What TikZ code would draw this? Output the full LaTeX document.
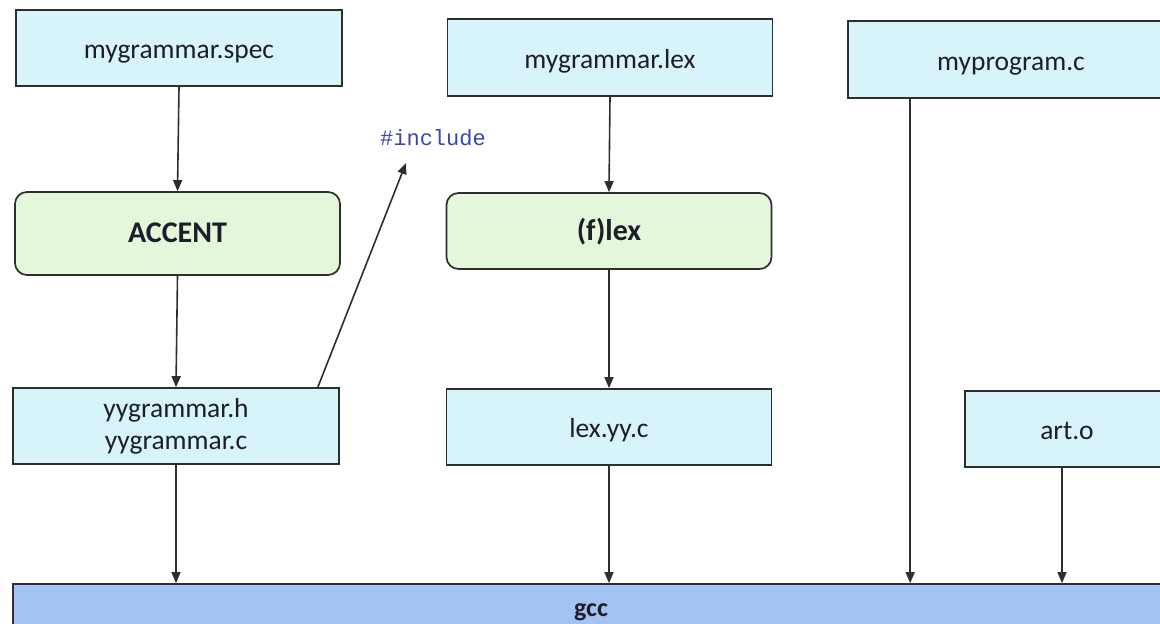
\documentclass[tikz,border=0pt]{standalone}
\usepackage{fontspec}
\setmainfont{Carlito}
\newfontfamily\codefont{Liberation Mono}
\usetikzlibrary{arrows.meta}

\definecolor{filebg}{HTML}{D6F4FA}
\definecolor{toolbg}{HTML}{E5F7DA}
\definecolor{gccbg}{HTML}{A3C3F2}
\definecolor{edge}{HTML}{2E2E2E}
\definecolor{txt}{HTML}{1E1E2A}
\definecolor{inccol}{HTML}{3848A8}

\tikzset{
  filebox/.style={draw=edge, line width=1.7pt, fill=filebg, text=txt,
    font=\fontsize{27.5}{32}\selectfont, inner sep=0pt, align=center},
  oneline/.style={text height=26pt, text depth=5pt},
  toolbox/.style={draw=edge, line width=1.7pt, fill=toolbg, text=txt,
    rounded corners=12pt, font=\bfseries\fontsize{30}{34}\selectfont, inner sep=0pt,
    text height=22pt, text depth=4pt},
  gccbox/.style={draw=edge, line width=1.7pt, fill=gccbg, text=txt,
    font=\bfseries\fontsize{26}{30}\selectfont, inner sep=0pt,
    text height=18pt, text depth=3pt},
  arr/.style={draw=edge, line width=1.6pt, -{Triangle[length=11pt,width=9pt]}},
  inclabel/.style={text=inccol, font=\codefont\fontsize{22}{26}\selectfont, inner sep=0pt}
}

\begin{document}
\begin{tikzpicture}[x=1pt, y=-1pt]
  \useasboundingbox (0,0) rectangle (1160,624);
  \clip (0,0) rectangle (1160,624);

  % left column: grammar specification through ACCENT
  \node[filebox, oneline, minimum width=326pt, minimum height=76pt] (spec) at (179,48) {mygrammar.spec};
  \node[toolbox, minimum width=325pt, minimum height=83pt] (accent) at (177.5,233.5) {ACCENT};
  \node[filebox, minimum width=326pt, minimum height=76pt] (yy) at (176,426)
    {yygrammar.h\\yygrammar.c};

  % middle column: scanner specification through (f)lex
  \node[filebox, oneline, minimum width=325pt, minimum height=77pt] (lex) at (610,57.5) {mygrammar.lex};
  \node[toolbox, minimum width=325pt, minimum height=76pt] (flex) at (609,231) {(f)lex};
  \node[filebox, oneline, minimum width=325pt, minimum height=76pt] (lexyy) at (609,427) {lex.yy.c};

  % right column: user program and object file
  \node[filebox, oneline, minimum width=326pt, minimum height=77pt] (prog) at (1011,59.5) {myprogram.c};
  \node[filebox, oneline, minimum width=204pt, minimum height=76pt] (arto) at (1067,429) {art.o};

  % compiler bar
  \node[gccbox, minimum width=1156pt, minimum height=50pt] (gcc) at (591,609) {gcc};

  % include note
  \node[inclabel] (inc) at (433,138) {\#include};
  \coordinate (inctip) at (406,163);

  % connectors
  \draw[arr] (spec.south) -- (accent.north);
  \draw[arr] (accent.south) -- (yy.north);
  \draw[arr] (yy.south) -- (yy.south |- gcc.north);
  \draw[arr] ([xshift=-22pt]yy.north east) -- (inctip);

  \draw[arr] (lex.south) -- (flex.north);
  \draw[arr] (flex.south) -- (lexyy.north);
  \draw[arr] (lexyy.south) -- (lexyy.south |- gcc.north);

  \draw[arr] ([xshift=63pt]prog.south west) -- ([xshift=63pt]prog.south west |- gcc.north);
  \draw[arr] ([xshift=-5pt]arto.south) -- ([xshift=-5pt]arto.south |- gcc.north);
\end{tikzpicture}
\end{document}
